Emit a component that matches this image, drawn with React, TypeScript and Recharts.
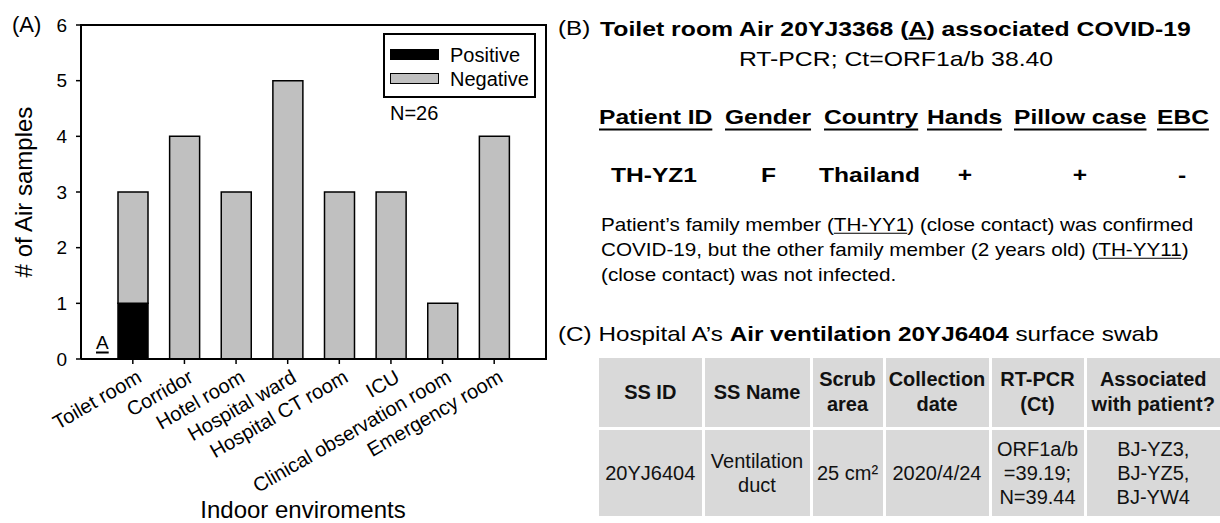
import React from 'react';
import { BarChart, Bar, XAxis, YAxis, Legend } from 'recharts';

const categories = [
  'Toilet room',
  'Corridor',
  'Hotel room',
  'Hospital ward',
  'Hospital CT room',
  'ICU',
  'Clinical observation room',
  'Emergency room',
];
const positiveCounts = [1, 0, 0, 0, 0, 0, 0, 0];
const negativeCounts = [2, 4, 3, 5, 3, 3, 1, 4];
const yTicks = [0, 1, 2, 3, 4, 5, 6];
const legendOrder = ['Positive', 'Negative'];

const panelBHeaders = ['Patient ID', 'Gender', 'Country', 'Hands', 'Pillow case', 'EBC'];
const panelBValues = ['TH-YZ1', 'F', 'Thailand', '+', '+', '-'];
const tableHeaders = [['SS ID'], ['SS Name'], ['Scrub', 'area'], ['Collection', 'date'], ['RT-PCR', '(Ct)'], ['Associated', 'with patient?']];
const tableRow = [['20YJ6404'], ['Ventilation', 'duct'], ['25 cm\u00b2'], ['2020/4/24'], ['ORF1a/b', '=39.19;', 'N=39.44'], ['BJ-YZ3,', 'BJ-YZ5,', 'BJ-YW4']];

const data = categories.map((name, i) => ({
  name,
  Positive: positiveCounts[i],
  Negative: negativeCounts[i],
}));

const FONT = '"Liberation Sans", Arial, Helvetica, sans-serif';

const CHART_W = 556;
const CHART_H = 523;
const MARGIN = { top: 25, right: 10, bottom: 0, left: 0 };
const Y_AXIS_W = 81;
const X_AXIS_H = 164;

const XTick = (props: any) => {
  const { x, y, payload } = props;
  const bx = x + 10;
  const by = y + 15;
  return (
    <text x={bx} y={by} textAnchor="end" fontSize={20} fill="#000" fontFamily={FONT}
      transform={`rotate(-30, ${bx}, ${by})`}>
      {payload.value}
    </text>
  );
};

const YLabel = (props: any) => {
  const vb = props.viewBox || { x: 0, y: 25, width: 81, height: 334 };
  const cx = vb.x + 24;
  const cy = vb.y + vb.height / 2;
  return (
    <text x={cx} y={cy} dy="0.35em" textAnchor="middle" fontSize={24} fill="#000" fontFamily={FONT}
      transform={`rotate(-90, ${cx}, ${cy})`}>
      {props.value}
    </text>
  );
};

const XLabel = (props: any) => {
  const vb = props.viewBox || { x: 81, y: 359, width: 465, height: 164 };
  const cx = vb.x + vb.width / 2 - 10.5;
  const cy = vb.y + vb.height - 5;
  return (
    <text x={cx} y={cy} textAnchor="middle" fontSize={24} fill="#000" fontFamily={FONT}>
      {props.value}
    </text>
  );
};

const renderLegend = (props: any) => {
  const payload = [...(props.payload || [])].sort(
    (a: any, b: any) => legendOrder.indexOf(a.value) - legendOrder.indexOf(b.value)
  );
  return (
    <div style={{ position: 'relative', width: 153, height: 65, border: '2px solid #000', boxSizing: 'border-box', background: '#fff', fontFamily: FONT }}>
      {payload.map((entry: any, i: number) => (
        <React.Fragment key={entry.value}>
          <div style={{ position: 'absolute', left: 5, top: 14 + i * 24, width: 49, height: 11, background: entry.color, border: '1.5px solid #000', boxSizing: 'border-box' }} />
          <div style={{ position: 'absolute', left: 65, top: 19.5 + i * 24, transform: 'translateY(-50%)', fontSize: 20, lineHeight: 1, color: '#000', whiteSpace: 'nowrap' }}>
            {entry.value}
          </div>
        </React.Fragment>
      ))}
    </div>
  );
};

type TProps = { x: number; y: number; size: number; bold?: boolean; sx?: number; anchor?: 'start' | 'middle'; children: any };
const T = ({ x, y, size, bold, sx = 1, anchor = 'start', children }: TProps) => (
  <div
    style={{
      position: 'absolute',
      left: x,
      top: y,
      fontSize: size,
      lineHeight: 1,
      fontWeight: bold ? 700 : 400,
      whiteSpace: 'nowrap',
      color: '#000',
      transformOrigin: anchor === 'start' ? 'left center' : 'center center',
      transform: `${anchor === 'start' ? 'translateY(-50%)' : 'translate(-50%, -50%)'} scaleX(${sx})`,
    }}
  >
    {children}
  </div>
);

const uThick = { textDecoration: 'underline', textDecorationThickness: '2px', textUnderlineOffset: '5px' } as const;
const uThin = { textDecoration: 'underline', textDecorationThickness: '1px', textUnderlineOffset: '2px' } as const;

const headerLefts = [599, 725, 824, 927, 1014, 1157];
const valuePos: { x: number; anchor: 'start' | 'middle' }[] = [
  { x: 611, anchor: 'start' },
  { x: 761, anchor: 'start' },
  { x: 819, anchor: 'start' },
  { x: 965, anchor: 'middle' },
  { x: 1080, anchor: 'middle' },
  { x: 1182, anchor: 'middle' },
];
const colWidths = [102.5, 105, 70, 103, 92, 133.5];

const plotLeft = MARGIN.left + Y_AXIS_W;
const plotTop = MARGIN.top;
const plotRight = CHART_W - MARGIN.right;
const plotBottom = CHART_H - MARGIN.bottom - X_AXIS_H;

export default function App() {
  return (
    <div style={{ position: 'absolute', left: 0, top: 0, width: 1220, height: 523, background: '#fff', fontFamily: FONT, overflow: 'hidden' }}>
      <div style={{ position: 'absolute', left: 0, top: 0, width: CHART_W, height: CHART_H }}>
        <BarChart width={CHART_W} height={CHART_H} data={data} margin={MARGIN} barSize={30}>
          <XAxis
            dataKey="name"
            height={X_AXIS_H}
            interval={0}
            padding={{ left: 26, right: 26 }}
            tickSize={5}
            tickMargin={2}
            tick={<XTick />}
            axisLine={{ stroke: '#000', strokeWidth: 2 }}
            tickLine={{ stroke: '#000', strokeWidth: 1.5 }}
            label={<XLabel value="Indoor enviroments" />}
          />
          <YAxis
            type="number"
            domain={[0, 6]}
            ticks={yTicks}
            width={Y_AXIS_W}
            tickSize={5}
            tickMargin={9}
            interval={0}
            tick={{ fontSize: 19, fill: '#000', fontFamily: FONT }}
            axisLine={{ stroke: '#000', strokeWidth: 2 }}
            tickLine={{ stroke: '#000', strokeWidth: 1.5 }}
            label={<YLabel value="# of Air samples" />}
          />
          <Legend
            layout="vertical"
            align="center"
            verticalAlign="middle"
            wrapperStyle={{ position: 'absolute', left: 383, top: 33, width: 153, height: 65 }}
            content={renderLegend}
          />
          <Bar dataKey="Positive" stackId="s" fill="#000000" stroke="#000" strokeWidth={1.5} isAnimationActive={false} />
          <Bar dataKey="Negative" stackId="s" fill="#c0c0c0" stroke="#000" strokeWidth={1.5} isAnimationActive={false} />
        </BarChart>
      </div>
      {/* plot frame (top and right edges) */}
      <div style={{ position: 'absolute', zIndex: 10, left: plotLeft - 1, top: plotTop - 1, width: plotRight - plotLeft + 2, height: 2, background: '#000' }} />
      <div style={{ position: 'absolute', zIndex: 10, left: plotRight - 1, top: plotTop - 1, width: 2, height: plotBottom - plotTop + 2, background: '#000' }} />

      {/* Panel A annotations */}
      <T x={12} y={25} size={22}>(A)</T>
      <T x={390} y={113} size={20}>N=26</T>
      <T x={96} y={342} size={19}><span style={{ textDecoration: 'underline', textDecorationThickness: '1.5px', textUnderlineOffset: '3px' }}>A</span></T>

      {/* Panel B */}
      <T x={558} y={27} size={21} sx={1.15}>(B)</T>
      <T x={600} y={27.5} size={21} bold sx={1.18}>
        Toilet room Air 20YJ3368 (<span style={{ textDecoration: 'underline', textDecorationThickness: '1.5px', textUnderlineOffset: '2px' }}>A</span>) associated COVID-19
      </T>
      <T x={896} y={57.5} size={21} sx={1.18} anchor="middle">RT-PCR; Ct=ORF1a/b 38.40</T>
      {panelBHeaders.map((h, i) => (
        <T key={h} x={headerLefts[i]} y={116} size={21} bold sx={1.17}>
          <span style={uThick}>{h}</span>
        </T>
      ))}
      {panelBValues.map((v, i) => (
        <T key={i} x={valuePos[i].x} y={173.5} size={21} bold sx={1.17} anchor={valuePos[i].anchor}>{v}</T>
      ))}
      <T x={601} y={225} size={18.5} sx={1.117}>
        Patient{'\u2019'}s family member (<span style={uThin}>TH-YY1</span>) (close contact) was confirmed
      </T>
      <T x={601} y={249.5} size={18.5} sx={1.117}>
        COVID-19, but the other family member (2 years old) (<span style={uThin}>TH-YY11</span>)
      </T>
      <T x={601} y={275} size={18.5} sx={1.117}>(close contact) was not infected.</T>

      {/* Panel C */}
      <T x={558} y={333} size={21} sx={1.155}>
        (C) Hospital A{'\u2019'}s <b>Air ventilation 20YJ6404</b> surface swab
      </T>
      <div
        style={{
          position: 'absolute',
          left: 599,
          top: 358,
          width: 621,
          height: 158,
          display: 'grid',
          gridTemplateColumns: colWidths.map((w) => `${w}px`).join(' '),
          gridTemplateRows: '68.5px 86.5px',
          columnGap: 3,
          rowGap: 3,
          background: '#fff',
        }}
      >
        {tableHeaders.map((lines, i) => (
          <div key={'h' + i} style={{ background: '#d9d9d9', display: 'flex', alignItems: 'center', justifyContent: 'center', textAlign: 'center', fontWeight: 700, fontSize: 20, lineHeight: '25px', color: '#111', whiteSpace: 'nowrap' }}>
            <div>{lines.map((l, j) => <div key={j}>{l}</div>)}</div>
          </div>
        ))}
        {tableRow.map((lines, i) => (
          <div key={'b' + i} style={{ background: '#d9d9d9', display: 'flex', alignItems: 'center', justifyContent: 'center', textAlign: 'center', fontWeight: 400, fontSize: 20, lineHeight: '24px', color: '#111', whiteSpace: 'nowrap' }}>
            <div>{lines.map((l, j) => <div key={j}>{l}</div>)}</div>
          </div>
        ))}
      </div>
    </div>
  );
}
